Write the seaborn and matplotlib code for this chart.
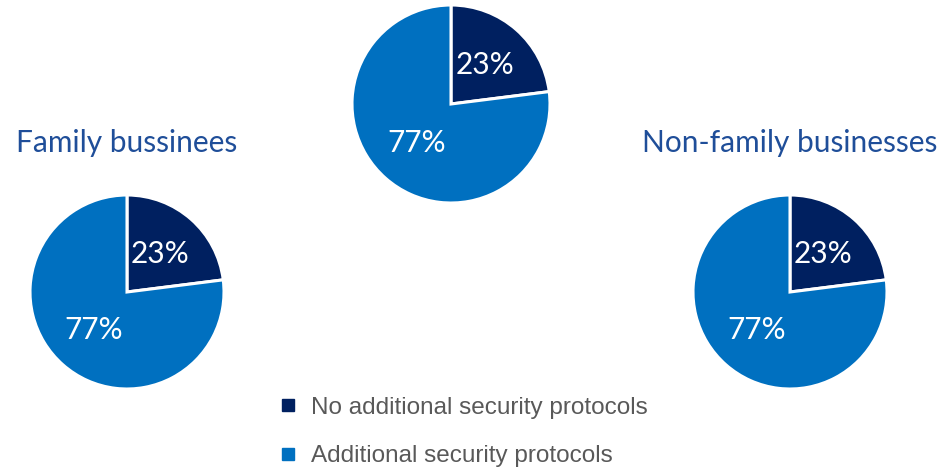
import matplotlib
matplotlib.use("Agg")
import matplotlib.pyplot as plt
from matplotlib.lines import Line2D
import seaborn as sns

# data
categories = ["No additional security protocols", "Additional security protocols"]
overall = [23, 77]
family = [23, 77]
non_family = [23, 77]
titles = ["", "Family bussinees", "Non-family businesses"]

sns.set_theme(style="white")
plt.rcParams["font.family"] = ["Lato", "DejaVu Sans"]
colors = sns.color_palette(["#002060", "#0070C0"])

W, H = 950, 468
fig = plt.figure(figsize=(W / 100, H / 100), dpi=100)
fig.patch.set_facecolor("white")


def pie_axes(cx, cy, r):
    return fig.add_axes([(cx - r) / W, (H - cy - r) / H, 2 * r / W, 2 * r / H])


panels = [
    (overall, titles[0], (451, 104, 99)),
    (family, titles[1], (127, 292, 97)),
    (non_family, titles[2], (790, 292, 97)),
]

for vals, title, (cx, cy, r) in panels:
    ax = pie_axes(cx, cy, r)
    ax.pie(vals, colors=colors, startangle=90, counterclock=False,
           autopct="%d%%", pctdistance=0.52,
           wedgeprops=dict(edgecolor="white", linewidth=2.2),
           textprops=dict(color="white", fontsize=21.5))
    ax.set_xlim(-1.0, 1.0)
    ax.set_ylim(-1.0, 1.0)
    ax.set_aspect("equal")
    ax.axis("off")
    if title:
        fig.text(cx / W, (H - 143) / H, title, ha="center", va="center",
                 fontsize=21.5, color="#1F4E99")

handles = [Line2D([], [], marker="s", linestyle="none", markersize=8,
                  markerfacecolor=c, markeredgecolor=c) for c in colors]
leg = fig.legend(handles, categories, loc="center left",
                 bbox_to_anchor=(254 / W, (H - 432) / H), frameon=False,
                 prop=dict(family="Liberation Sans", size=17.5),
                 labelcolor="#595959", handletextpad=0.45, labelspacing=1.1,
                 handlelength=1.0)

fig.savefig("out.png", dpi=100, facecolor="white")
